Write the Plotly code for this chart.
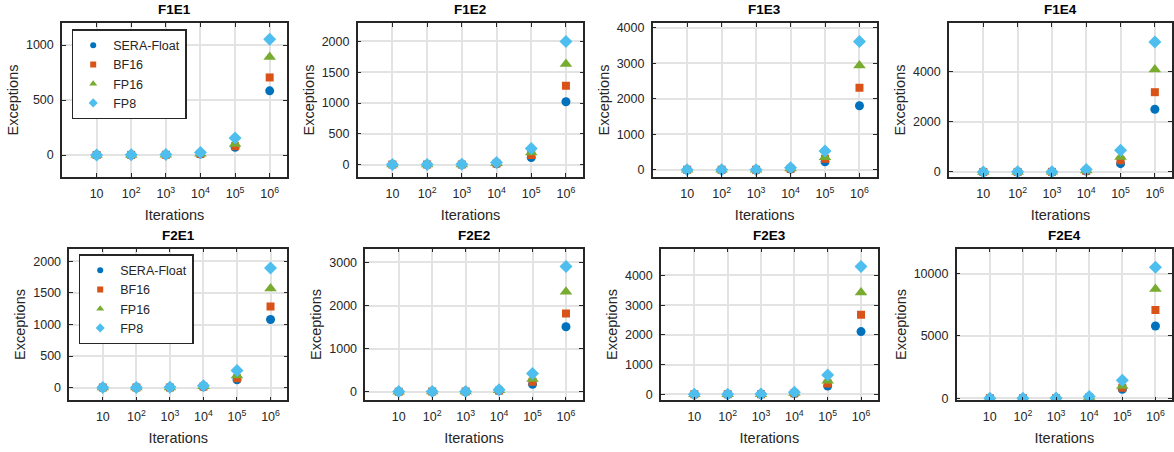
import plotly.graph_objects as go

iterations = [10, 100, 1000, 10000, 100000, 1000000]
tick_labels = ["10", "10<sup>2</sup>", "10<sup>3</sup>", "10<sup>4</sup>", "10<sup>5</sup>", "10<sup>6</sup>"]
titles = ["F1E1", "F1E2", "F1E3", "F1E4", "F2E1", "F2E2", "F2E3", "F2E4"]
series_names = ["SERA-Float", "BF16", "FP16", "FP8"]

# values per subplot: [SERA-Float, BF16, FP16, FP8]
F1E1 = [[0, 0, 1, 8, 70, 583], [0, 1, 2, 10, 80, 705], [0, 1, 2, 12, 100, 890], [1, 2, 4, 22, 155, 1052]]
F1E2 = [[0, 1, 2, 15, 115, 1022], [1, 2, 3, 20, 158, 1283], [1, 2, 3, 24, 196, 1636], [2, 3, 5, 35, 261, 2000]]
F1E3 = [[1, 2, 3, 25, 226, 1802], [1, 2, 4, 35, 311, 2311], [1, 3, 5, 40, 358, 2934], [2, 4, 7, 60, 528, 3613]]
F1E4 = [[1, 2, 4, 35, 333, 2507], [1, 3, 5, 50, 467, 3187], [2, 3, 6, 60, 600, 4093], [3, 5, 9, 100, 867, 5187]]
F2E1 = [[0, 1, 2, 14, 125, 1080], [1, 1, 3, 18, 150, 1283], [1, 2, 3, 22, 192, 1569], [2, 3, 5, 30, 270, 1896]]
F2E2 = [[1, 2, 3, 20, 170, 1508], [1, 2, 4, 26, 232, 1817], [1, 3, 5, 32, 294, 2320], [2, 4, 7, 45, 425, 2908]]
F2E3 = [[1, 2, 4, 30, 279, 2112], [1, 3, 5, 40, 369, 2682], [2, 3, 6, 48, 458, 3430], [3, 5, 8, 70, 648, 4302]]
F2E4 = [[2, 4, 8, 70, 722, 5802], [2, 5, 10, 85, 856, 7086], [3, 6, 12, 100, 989, 8770], [4, 8, 16, 145, 1444, 10508]]
all_data = [F1E1, F1E2, F1E3, F1E4, F2E1, F2E2, F2E3, F2E4]

y_ranges = [[-200, 1200], [-200, 2300], [-200, 4130], [-200, 5950],
            [-200, 2200], [-200, 3320], [-200, 4900], [-160, 12000]]
y_dticks = [500, 500, 1000, 2000, 500, 1000, 1000, 5000]

colors = ["#0072BD", "#D95319", "#77AC30", "#4DBEEE"]
symbols = ["circle", "square", "triangle-up", "diamond"]
sizes = [9, 8, 11, 10]
legend_sizes = [6, 6, 7, 7]

W, H = 1174, 452
# pixel boxes (left, right, top, bottom)
boxes = [(62, 287, 23, 177), (357.7, 583.3, 23, 177), (652.7, 876.7, 23, 177), (949, 1172, 23, 177),
         (69.3, 287.3, 248.7, 400.3), (365.3, 582.7, 248.7, 400.3), (661, 877.7, 248.7, 400.3), (956.7, 1172, 248.7, 400.3)]

fig = go.Figure()
axis_color = "#262626"
font_family = "Liberation Sans, Arial, Helvetica, sans-serif"
layout = dict(
    width=W, height=H, margin=dict(l=0, r=0, t=0, b=0, autoexpand=False),
    paper_bgcolor="white", plot_bgcolor="white",
    font=dict(family=font_family, color=axis_color),
    annotations=[],
)

for i, data in enumerate(all_data):
    n = i + 1
    xa = "x" if n == 1 else f"x{n}"
    ya = "y" if n == 1 else f"y{n}"
    for s in range(4):
        fig.add_trace(go.Scatter(
            x=iterations, y=data[s], mode="markers", name=series_names[s],
            marker=dict(color=colors[s], symbol=symbols[s], size=sizes[s], line=dict(width=0)),
            xaxis=xa, yaxis=ya, showlegend=False))
    # legend entries (smaller marker glyphs, like the reference legend)
    if i in (0, 4):
        for s in range(4):
            fig.add_trace(go.Scatter(
                x=[None], y=[None], mode="markers", name=series_names[s],
                marker=dict(color=colors[s], symbol=symbols[s], size=legend_sizes[s], line=dict(width=0)),
                xaxis=xa, yaxis=ya, showlegend=True,
                legend="legend" if i == 0 else "legend2"))
    l, r, t, b = boxes[i]
    xd = [l / W, r / W]
    yd = [1 - b / H, 1 - t / H]
    layout["xaxis" if n == 1 else f"xaxis{n}"] = dict(
        domain=xd, anchor=ya, type="log", range=[0, 6.5], automargin=False,
        tickmode="array", tickvals=iterations, ticktext=tick_labels,
        showgrid=True, gridcolor="#e3e3e3", gridwidth=1.5,
        showline=True, linecolor=axis_color, linewidth=1.5, mirror="allticks",
        ticks="inside", ticklen=4, tickcolor=axis_color, tickwidth=1,
        tickfont=dict(size=12.5, color=axis_color), ticklabelstandoff=4,
        title=dict(text="Iterations", font=dict(size=14.5, color=axis_color), standoff=10),
        zeroline=False,
    )
    layout["yaxis" if n == 1 else f"yaxis{n}"] = dict(
        domain=yd, anchor=xa, range=y_ranges[i], automargin=False,
        tickmode="linear", tick0=0, dtick=y_dticks[i], tickformat="d",
        showgrid=True, gridcolor="#e3e3e3", gridwidth=1.5,
        showline=True, linecolor=axis_color, linewidth=1.5, mirror="allticks",
        ticks="inside", ticklen=4, tickcolor=axis_color, tickwidth=1,
        tickfont=dict(size=12.5, color=axis_color), ticklabelstandoff=4,
        title=dict(text="Exceptions", font=dict(size=14.5, color=axis_color), standoff=4),
        zeroline=False,
    )
    layout["annotations"].append(dict(
        text=f"<b>{titles[i]}</b>", x=(xd[0] + xd[1]) / 2, y=yd[1], xref="paper", yref="paper",
        xanchor="center", yanchor="bottom", yshift=4, showarrow=False,
        font=dict(size=13.5, color="#000000")))

legend_common = dict(
    bgcolor="white", bordercolor="#262626", borderwidth=1.5,
    font=dict(size=12.5, color=axis_color), xanchor="left", yanchor="top",
    tracegroupgap=0,
)
layout["legend"] = dict(x=71.7 / W, y=1 - 29 / H, **legend_common)
layout["legend2"] = dict(x=78.7 / W, y=1 - 254 / H, **legend_common)

fig.update_layout(**layout)
fig.write_html("out.html", config={"displayModeBar": False},
               post_script="document.body.style.margin='0';document.body.style.overflow='hidden';")
